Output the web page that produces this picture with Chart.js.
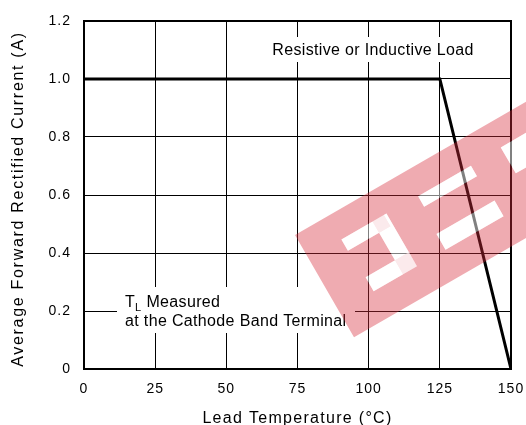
<!DOCTYPE html>
<html>
<head>
<meta charset="utf-8">
<script src="https://cdn.jsdelivr.net/npm/chart.js@4.4.0/dist/chart.umd.min.js"></script>
<style>
  html, body { margin: 0; padding: 0; background: #fff; }
  #wrap { width: 526px; height: 425px; }
</style>
</head>
<body>
<div id="wrap"><canvas id="derating"></canvas></div>
<script>
// derating curve
const leadTemps = [0, 125, 150];
const avgCurrent = [1.0, 1.0, 0];
const xTicks = [0, 25, 50, 75, 100, 125, 150];
const yTicks = [0, 0.2, 0.4, 0.6, 0.8, 1.0, 1.2];
const xTitle = 'Lead Temperature (°C)';
const yTitle = 'Average Forward Rectified Current (A)';

const FONT = '"Liberation Sans", Arial, Helvetica, sans-serif';

// the datasheet type is a bit wider than Arial, so space it out
const spacingPlugin = {
    id: 'spacing',
    beforeUpdate(chart) { chart.ctx.letterSpacing = '1px'; },
    beforeDraw(chart) { chart.ctx.letterSpacing = '1px'; }
};

const notesPlugin = {
    id: 'notes',
    beforeDatasetsDraw(chart) {
        const ctx = chart.ctx;
        const a = chart.chartArea;
        ctx.save();
        // white boxes behind the notes hide the grid
        ctx.fillStyle = '#fff';
        ctx.fillRect(265, 37, 215, 25);
        ctx.fillRect(117, 287, 238, 46);

        ctx.fillStyle = '#000';
        ctx.textBaseline = 'alphabetic';
        ctx.letterSpacing = '0.35px';
        ctx.font = '16px ' + FONT;
        ctx.textAlign = 'center';
        ctx.fillText('Resistive or Inductive Load', 373, 55);

        ctx.textAlign = 'left';
        ctx.fillText('T', 125, 307);
        const tw = ctx.measureText('T').width;
        ctx.font = '11px ' + FONT;
        ctx.fillText('L', 125 + tw, 311);
        const lw = ctx.measureText('L').width;
        ctx.font = '16px ' + FONT;
        ctx.fillText(' Measured', 125 + tw + lw, 307);
        ctx.fillText('at the Cathode Band Terminal', 125, 326);

        // outer frame
        ctx.strokeStyle = '#000';
        ctx.lineWidth = 2;
        ctx.strokeRect(a.left, a.top, a.right - a.left, a.bottom - a.top);

        // axis titles
        ctx.font = '16px ' + FONT;
        ctx.textAlign = 'center';
        ctx.letterSpacing = '1.3px';
        ctx.fillText(xTitle, (a.left + a.right) / 2, 423);
        ctx.translate(23, (a.top + a.bottom) / 2 + 4);
        ctx.rotate(-Math.PI / 2);
        ctx.letterSpacing = '1.7px';
        ctx.fillText(yTitle, 0, 0);
        ctx.restore();
    },
    afterDraw(chart) {
        // red watermark band across the right side
        const ctx = chart.ctx;
        ctx.save();
        ctx.translate(295, 235);
        ctx.rotate(-30 * Math.PI / 180);
        const holes = [
            [38, 27, 49, 13], [74, 27, 16, 61], [40, 72, 50, 16],
            [126, 28, 61, 12], [123, 70, 67, 18], [222, 27, 40, 30]
        ];
        ctx.beginPath();
        ctx.rect(0, 0, 320, 118);
        holes.forEach(h => ctx.rect(h[0], h[1], h[2], h[3]));
        ctx.fillStyle = 'rgba(214, 45, 60, 0.40)';
        ctx.fill('evenodd');
        ctx.fillStyle = 'rgba(255, 255, 255, 0.5)';
        holes.forEach(h => ctx.fillRect(h[0], h[1], h[2], h[3]));
        ctx.restore();
    }
};

new Chart(document.getElementById('derating').getContext('2d'), {
    type: 'scatter',
    data: {
        datasets: [{
            data: leadTemps.map((t, i) => ({ x: t, y: avgCurrent[i] })),
            showLine: true,
            borderColor: '#000',
            borderWidth: 3,
            pointRadius: 0,
            tension: 0
        }]
    },
    options: {
        responsive: true,
        maintainAspectRatio: false,
        animation: false,
        layout: { padding: { left: 0, top: 21, right: 15, bottom: 0 } },
        plugins: { legend: { display: false }, tooltip: { enabled: false } },
        scales: {
            x: {
                type: 'linear', min: 0, max: 150,
                afterBuildTicks: s => { s.ticks = xTicks.map(v => ({ value: v })); },
                afterFit: s => { s.height = 56; s.paddingLeft = 0; s.paddingRight = 0; },
                grid: { color: '#000', lineWidth: 1, drawTicks: false },
                border: { display: false },
                ticks: { color: '#000', padding: 12, font: { family: FONT, size: 14 } }
            },
            y: {
                min: 0, max: 1.2,
                afterBuildTicks: s => { s.ticks = yTicks.map(v => ({ value: v })); },
                afterFit: s => { s.width = 84; s.paddingTop = 0; s.paddingBottom = 0; },
                grid: { color: '#000', lineWidth: 1, drawTicks: false },
                border: { display: false },
                ticks: { color: '#000', padding: 13, font: { family: FONT, size: 14 },
                         callback: v => v === 0 ? '0' : v.toFixed(1) }
            }
        }
    },
    plugins: [spacingPlugin, notesPlugin]
});
</script>
</body>
</html>
